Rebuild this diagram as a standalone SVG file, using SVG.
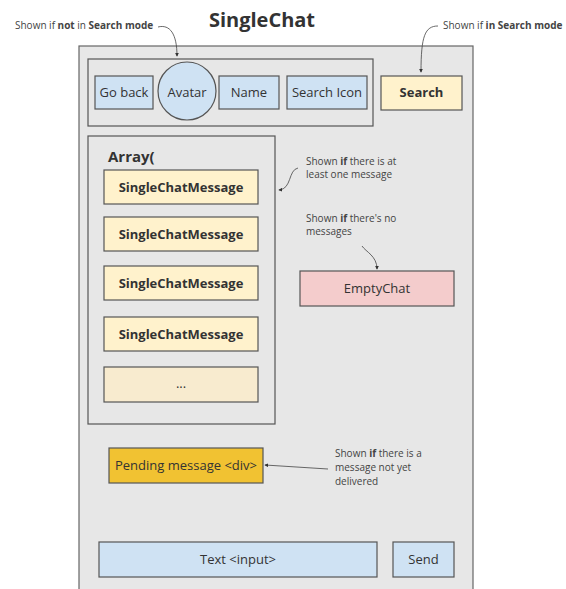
<svg xmlns="http://www.w3.org/2000/svg" width="566" height="589" viewBox="0 0 566 589">
<defs>
<style>
text{font-family:"Open Sans","Noto Sans","Liberation Sans",sans-serif;fill:#333}
.box{stroke:#555;stroke-width:1.2}
.blue{fill:#cfe2f3}
.yel{fill:#fff2cc}
.lbl{font-size:13px;text-anchor:middle}
.b{font-weight:bold}
.note{font-size:10px;fill:#444}
.con{fill:none;stroke:#444;stroke-width:0.8}
</style>
<marker id="ah" viewBox="0 0 6 6" refX="5" refY="3" markerWidth="5" markerHeight="5" orient="auto"><path d="M0,0 L6,3 L0,6 z" fill="#333"/></marker>
</defs>
<rect width="566" height="589" fill="#fff"/>
<rect id="frame" x="79" y="46" width="394" height="560" fill="#e7e7e7" stroke="#666" stroke-width="1.2"/>
<text x="262" y="27" font-size="20" font-weight="bold" text-anchor="middle" fill="#222">SingleChat</text>

<g id="header">
<rect x="88" y="59" width="285" height="67" fill="none" stroke="#555" stroke-width="1.2"/>
</g>
<g id="goback"><rect class="box blue" x="95" y="76" width="58" height="33"/><text class="lbl" x="124" y="97">Go back</text></g>
<g id="avatar"><ellipse class="box blue" cx="187" cy="91" rx="29" ry="29"/><text class="lbl" x="187" y="97">Avatar</text></g>
<g id="name"><rect class="box blue" x="219" y="76" width="60" height="33"/><text class="lbl" x="249" y="97">Name</text></g>
<g id="searchicon"><rect class="box blue" x="287" y="76" width="80" height="33"/><text class="lbl" x="327" y="97">Search Icon</text></g>
<g id="search"><rect class="box yel" x="381" y="76" width="81" height="34"/><text class="lbl b" x="421.5" y="97">Search</text></g>

<g id="array">
<rect x="88" y="136" width="187" height="288" fill="none" stroke="#555" stroke-width="1.2"/>
<text x="108" y="162" font-size="15" font-weight="bold" fill="#222">Array(</text>
</g>
<g id="msg1"><rect class="box yel" x="104" y="170" width="154" height="34"/><text class="lbl b" x="181" y="192">SingleChatMessage</text></g>
<g id="msg2"><rect class="box yel" x="104" y="217" width="154" height="34"/><text class="lbl b" x="181" y="239">SingleChatMessage</text></g>
<g id="msg3"><rect class="box yel" x="104" y="266" width="154" height="34"/><text class="lbl b" x="181" y="288">SingleChatMessage</text></g>
<g id="msg4"><rect class="box yel" x="104" y="317" width="154" height="34"/><text class="lbl b" x="181" y="339">SingleChatMessage</text></g>
<g id="more"><rect class="box" fill="#f8ebcf" x="104" y="367" width="154" height="35"/><text class="lbl" x="181" y="388" font-size="11" fill="#666">...</text></g>

<g id="emptychat"><rect class="box" fill="#f4cccc" x="300" y="271" width="154" height="35"/><text class="lbl" x="377" y="293">EmptyChat</text></g>
<g id="pending"><rect class="box" fill="#f1c232" stroke="#8a6d1a" stroke-width="1.2" x="109" y="448" width="154" height="35"/><text class="lbl" x="186" y="470">Pending message &lt;div&gt;</text></g>
<g id="textinput"><rect class="box blue" x="99" y="542" width="278" height="35"/><text class="lbl" x="238" y="564">Text &lt;input&gt;</text></g>
<g id="send"><rect class="box blue" x="393" y="542" width="61" height="35"/><text class="lbl" x="423.5" y="564">Send</text></g>

<g id="notes">
<text class="note" x="15" y="29">Shown if <tspan class="b">not</tspan> in <tspan class="b">Search mode</tspan></text>
<text class="note" x="443" y="29">Shown if <tspan class="b">in Search mode</tspan></text>
<text class="note" x="306" y="165">Shown <tspan class="b">if</tspan> there is at</text>
<text class="note" x="306" y="178">least one message</text>
<text class="note" x="306" y="222">Shown <tspan class="b">if</tspan> there's no</text>
<text class="note" x="306" y="235">messages</text>
<text class="note" x="335" y="457">Shown <tspan class="b">if</tspan> there is a</text>
<text class="note" x="335" y="471">message not yet</text>
<text class="note" x="335" y="485">delivered</text>
</g>

<g id="connectors">
<path class="con" d="M158,27 C170,24 177,34 177,56" marker-end="url(#ah)"/>
<path class="con" d="M438,26 C425,26 421,36 421,72" marker-end="url(#ah)"/>
<path class="con" d="M298,168 C288,170 292,189 279,190" marker-end="url(#ah)"/>
<path class="con" d="M362,246 C366,252 377,256 377,269" marker-end="url(#ah)"/>
<path class="con" d="M328,469 L265,465" marker-end="url(#ah)"/>
</g>
</svg>
